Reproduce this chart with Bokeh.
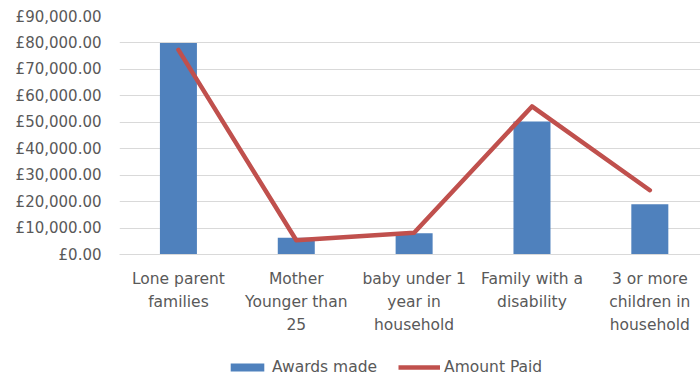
from bokeh.plotting import figure
from bokeh.layouts import column
from bokeh.models import (Range1d, FixedTicker, CustomJSTickFormatter,
                          Legend, LegendItem, ColumnDataSource, LinearAxis)
from bokeh.embed import file_html
from bokeh.resources import INLINE

categories = ["Lone parent families", "Mother Younger than 25",
              "baby under 1 year in household", "Family with a disability",
              "3 or more children in household"]
category_labels = ["Lone parent\nfamilies", "Mother\nYounger than\n25",
                   "baby under 1\nyear in\nhousehold", "Family with a\ndisability",
                   "3 or more\nchildren in\nhousehold"]
awards_made = [80000, 6300, 8000, 50300, 19000]
amount_paid = [77400, 5400, 8200, 56000, 24300]
y_ticks = [0, 10000, 20000, 30000, 40000, 50000, 60000, 70000, 80000, 90000]
series_names = ["Awards made", "Amount Paid"]

FONT = "DejaVu Sans"
TEXT = "#595959"
BAR_C = "#4F81BD"
LINE_C = "#C0504D"

idx = list(range(len(categories)))
src = ColumnDataSource(dict(x=idx, cat=categories, awards=awards_made, paid=amount_paid))

p = figure(width=700, height=342, output_backend="svg", toolbar_location=None,
           x_range=Range1d(-0.5, 4.43),
           y_range=Range1d(0, 90000),
           min_border_left=119, min_border_right=0, min_border_top=16,
           min_border_bottom=88)
p.outline_line_color = None
p.background_fill_color = "white"
p.border_fill_color = "white"

p.vbar(x="x", top="awards", width=0.314, source=src,
       fill_color=BAR_C, line_color=None)
p.line(x="x", y="paid", source=src, line_color=LINE_C,
       line_width=4.5, line_join="round", line_cap="round")

p.yaxis.ticker = FixedTicker(ticks=y_ticks)
p.yaxis.formatter = CustomJSTickFormatter(code="""
return '\u00a3' + tick.toLocaleString('en-GB', {minimumFractionDigits: 2, maximumFractionDigits: 2});
""")
p.yaxis.axis_line_color = None
p.yaxis.major_tick_line_color = None
p.yaxis.minor_tick_line_color = None
p.yaxis.major_tick_out = 0
p.yaxis.major_label_standoff = 18
p.yaxis.major_label_text_font = FONT
p.yaxis.major_label_text_font_size = "15px"
p.yaxis.major_label_text_color = TEXT

# category labels split over stacked axes, one line per axis
split_lines = [lbl.split("\n") for lbl in category_labels]
n_lines = max(len(s) for s in split_lines)
axes = [p.xaxis[0]]
for i in range(1, n_lines):
    ax = LinearAxis()
    p.add_layout(ax, "below")
    axes.append(ax)
for i, ax in enumerate(axes):
    ax.ticker = FixedTicker(ticks=idx)
    ax.major_label_overrides = {k: (s[i] if i < len(s) else " ")
                                for k, s in zip(idx, split_lines)}
    ax.axis_line_color = "#D9D9D9" if i == 0 else None
    ax.major_tick_line_color = None
    ax.minor_tick_line_color = None
    ax.major_tick_out = 0
    ax.major_tick_in = 0
    ax.major_label_standoff = 15 if i == 0 else 2
    ax.major_label_text_font = FONT
    ax.major_label_text_font_size = "15.5px"
    ax.major_label_text_color = TEXT

p.xgrid.grid_line_color = None
p.ygrid.grid_line_color = "#D9D9D9"
p.ygrid.grid_line_width = 1

# legend strip below the chart (proxy renderers kept outside its visible range)
lg = figure(width=700, height=40, output_backend="svg", toolbar_location=None,
            x_range=Range1d(-101, -100), y_range=Range1d(-200000, -199999),
            x_axis_location=None, y_axis_location=None, min_border=0)
lg.outline_line_color = None
lg.grid.visible = False
lg.border_fill_color = "white"
r_bar = lg.vbar(x="x", top="awards", width=0.3, source=src,
                fill_color=BAR_C, line_color=None)
r_line = lg.line(x="x", y="paid", source=src, line_color=LINE_C, line_width=4.5)
legend = Legend(items=[LegendItem(label=series_names[0], renderers=[r_bar]),
                       LegendItem(label=series_names[1], renderers=[r_line])],
                orientation="horizontal", location=(107, 6),
                label_text_font=FONT, label_text_font_size="15.5px",
                label_text_color=TEXT, glyph_width=42, glyph_height=10,
                label_standoff=4, spacing=21, padding=0, margin=0,
                border_line_color=None, background_fill_alpha=0)
lg.add_layout(legend, "center")

layout = column(p, lg, spacing=0)
open("out.html", "w").write(file_html(layout, INLINE))
